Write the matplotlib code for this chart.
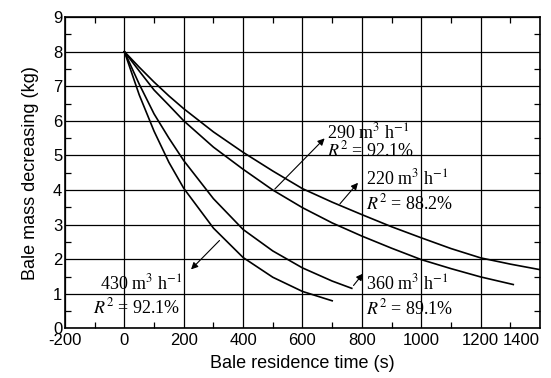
import numpy as np
import matplotlib
matplotlib.use('Agg')
import matplotlib.pyplot as plt
from matplotlib.ticker import MultipleLocator

# curves (time in s, mass in kg)
t_220 = [0, 50, 100, 150, 200, 300, 400, 500, 600, 700, 800, 900, 1000, 1100, 1200, 1300, 1400]
m_220 = [8.0, 7.55, 7.12, 6.72, 6.35, 5.68, 5.09, 4.55, 4.04, 3.65, 3.29, 2.94, 2.62, 2.31, 2.04, 1.86, 1.70]

t_290 = [0, 50, 100, 150, 200, 300, 400, 500, 600, 700, 800, 900, 1000, 1100, 1200, 1310]
m_290 = [8.0, 7.44, 6.89, 6.45, 6.0, 5.24, 4.6, 4.0, 3.49, 3.05, 2.67, 2.32, 1.99, 1.73, 1.49, 1.27]

t_360 = [0, 50, 100, 150, 200, 300, 400, 500, 600, 700, 766]
m_360 = [8.0, 7.06, 6.2, 5.5, 4.85, 3.75, 2.86, 2.24, 1.75, 1.37, 1.16]

t_430 = [0, 50, 100, 150, 200, 300, 400, 500, 600, 700]
m_430 = [8.0, 6.75, 5.7, 4.8, 4.05, 2.9, 2.05, 1.48, 1.07, 0.80]

x_ticks = [-200, 0, 200, 400, 600, 800, 1000, 1200, 1400]

plt.rcParams['mathtext.fontset'] = 'stix'
plt.rcParams['axes.unicode_minus'] = False
plt.rcParams['font.family'] = ['Liberation Sans', 'DejaVu Sans']

fig = plt.figure(figsize=(5.51, 3.78), dpi=100)
ax = fig.add_axes([0.118, 0.131, 0.862, 0.824])

for t, m in [(t_220, m_220), (t_290, m_290), (t_360, m_360), (t_430, m_430)]:
    ax.plot(t, m, color='black', lw=1.2, zorder=3)

ax.set_xlim(-200, 1400)
ax.set_ylim(0, 9)
ax.set_xticks(x_ticks)
ax.set_xticklabels([str(v) for v in x_ticks])
ax.xaxis.set_minor_locator(MultipleLocator(100))
ax.yaxis.set_major_locator(MultipleLocator(1))
ax.yaxis.set_minor_locator(MultipleLocator(0.5))
ax.grid(True, which='major', color='black', lw=0.9)
ax.tick_params(which='both', direction='in', top=True, right=True, labelsize=12)
ax.tick_params(axis='x', pad=3)
ax.tick_params(axis='y', pad=2)
ax.tick_params(which='major', length=0)
ax.tick_params(which='minor', length=4, width=0.9)
for s in ax.spines.values():
    s.set_linewidth(1.2)

# last x tick label pulled inside the figure, like in the original
ax.get_xticklabels()[-1].set_horizontalalignment('right')

ax.set_xlabel('Bale residence time (s)', fontsize=13, labelpad=5)
ax.set_ylabel('Bale mass decreasing (kg)', fontsize=13, labelpad=10)

serif = dict(family='Liberation Serif', fontsize=13, color='black')
arrow = dict(arrowstyle='-|>', color='black', lw=0.8, mutation_scale=10)

# 290
ax.annotate('', xy=(681, 5.55), xytext=(500, 3.97), arrowprops=arrow, zorder=4)
ax.text(683, 5.50, r'290 m$^3$ h$^{-1}$', ha='left', va='baseline', **serif)
ax.text(683, 4.96, r'$R^2$ = 92.1%', ha='left', va='baseline', **serif)
# 220
ax.annotate('', xy=(793, 4.27), xytext=(720, 3.54), arrowprops=arrow, zorder=4)
ax.text(815, 4.17, r'220 m$^3$ h$^{-1}$', ha='left', va='baseline', **serif)
ax.text(815, 3.44, r'$R^2$ = 88.2%', ha='left', va='baseline', **serif)
# 360
ax.annotate('', xy=(810, 1.65), xytext=(766, 1.18), arrowprops=arrow, zorder=4)
ax.text(815, 1.12, r'360 m$^3$ h$^{-1}$', ha='left', va='baseline', **serif)
ax.text(815, 0.40, r'$R^2$ = 89.1%', ha='left', va='baseline', **serif)
# 430
ax.annotate('', xy=(218, 1.65), xytext=(327, 2.6), arrowprops=arrow, zorder=4)
ax.text(-83, 1.14, r'430 m$^3$ h$^{-1}$', ha='left', va='baseline', **serif)
ax.text(-105, 0.45, r'$R^2$ = 92.1%', ha='left', va='baseline', **serif)

plt.savefig('out.png', dpi=100)
